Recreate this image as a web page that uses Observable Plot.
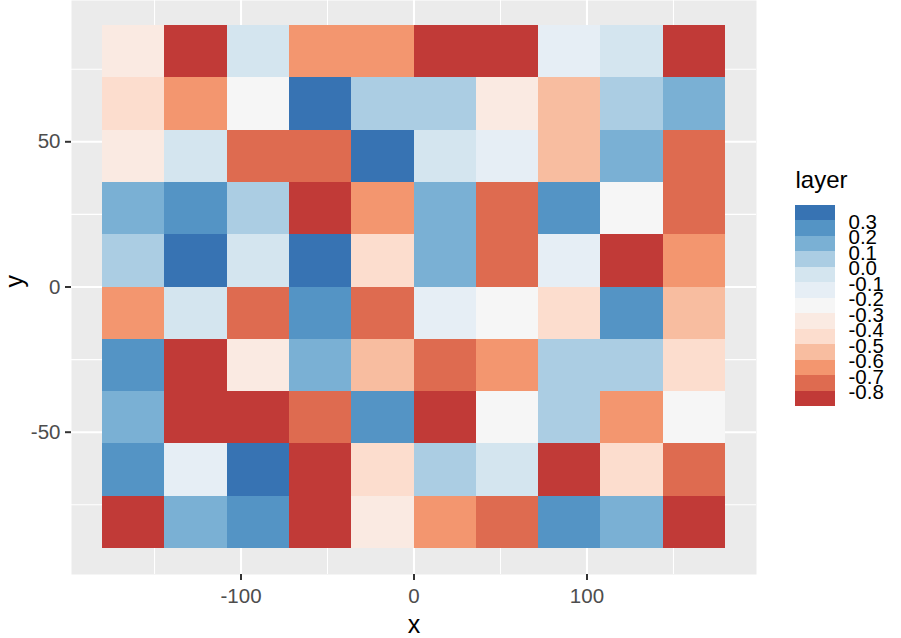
<!DOCTYPE html>
<html>
<head>
<meta charset="utf-8">
<script src="https://cdn.jsdelivr.net/npm/d3@7"></script>
<script src="https://cdn.jsdelivr.net/npm/@observablehq/plot@0.6"></script>
<style>
  html, body { margin: 0; padding: 0; background: #ffffff; }
  #chart { position: relative; width: 901px; height: 638px; overflow: hidden; font-family: "Liberation Sans", Arial, sans-serif; }
  #chart > div, #chart > svg { position: absolute; }
  #main { left: 0; top: 0; }
  #legend { left: 780px; top: 160px; }
</style>
</head>
<body>
<div id="chart"><div id="main"></div><div id="legend"></div></div>
<script>
// Grid cell centres (10 x 10 raster over lon/lat)
const xCenters = [-162, -126, -90, -54, -18, 18, 54, 90, 126, 162];
const yCenters = [81, 63, 45, 27, 9, -9, -27, -45, -63, -81];
const cellWidth = 36;
const cellHeight = 18;

// Layer values, one row per latitude band (top to bottom)
const row1  = [-0.35, -0.85, -0.05, -0.65, -0.65, -0.85, -0.85, -0.15, -0.05, -0.85];
const row2  = [-0.45, -0.65, -0.25,  0.35,  0.05,  0.05, -0.35, -0.55,  0.05,  0.15];
const row3  = [-0.35, -0.05, -0.75, -0.75,  0.35, -0.05, -0.15, -0.55,  0.15, -0.75];
const row4  = [ 0.15,  0.25,  0.05, -0.85, -0.65,  0.15, -0.75,  0.25, -0.25, -0.75];
const row5  = [ 0.05,  0.35, -0.05,  0.35, -0.45,  0.15, -0.75, -0.15, -0.85, -0.65];
const row6  = [-0.65, -0.05, -0.75,  0.25, -0.75, -0.15, -0.25, -0.45,  0.25, -0.55];
const row7  = [ 0.25, -0.85, -0.35,  0.15, -0.55, -0.75, -0.65,  0.05,  0.05, -0.45];
const row8  = [ 0.15, -0.85, -0.85, -0.75,  0.25, -0.85, -0.25,  0.05, -0.65, -0.25];
const row9  = [ 0.25, -0.15,  0.35, -0.85, -0.45,  0.05, -0.05, -0.85, -0.45, -0.75];
const row10 = [-0.85,  0.15,  0.25, -0.85, -0.35, -0.65, -0.75,  0.25,  0.15, -0.85];
const layerRows = [row1, row2, row3, row4, row5, row6, row7, row8, row9, row10];

// Axis ticks
const xTicks = [-100, 0, 100];
const xMinor = [-150, -50, 50, 150];
const yTicks = [-50, 0, 50];
const yMinor = [-75, -25, 25, 75];

// Binned colour scale: breaks and the 13 bin colours (low to high)
const breaks = [-0.8, -0.7, -0.6, -0.5, -0.4, -0.3, -0.2, -0.1, 0.0, 0.1, 0.2, 0.3];
const palette = ["#C13A37", "#DE6B50", "#F3966F", "#F8BDA0", "#FCDDCE", "#FAEAE2", "#F6F6F6",
                 "#E6EEF5", "#D4E5EF", "#ABCDE3", "#7AB0D4", "#5494C5", "#3773B3"];
const legendLabels = ["0.3", "0.2", "0.1", "0.0", "-0.1", "-0.2", "-0.3", "-0.4", "-0.5", "-0.6", "-0.7", "-0.8"];
const legendTitle = "layer";

const FONT = "'Liberation Sans', Arial, sans-serif";
const colorSpec = {type: "threshold", domain: breaks, range: palette};

const cells = yCenters.flatMap((y, i) => xCenters.map((x, j) => ({x, y, layer: layerRows[i][j]})));

const main = Plot.plot({
  width: 901,
  height: 638,
  marginLeft: 71,
  marginRight: 145,
  marginTop: 0,
  marginBottom: 64,
  style: {fontFamily: FONT, fontSize: "20px", background: "transparent", overflow: "visible"},
  x: {domain: [-198, 198]},
  y: {domain: [-99, 99], range: [574, -1]},
  color: colorSpec,
  marks: [
    Plot.frame({fill: "#EBEBEB", stroke: "none"}),
    Plot.ruleX(xMinor, {stroke: "white", strokeWidth: 1.05}),
    Plot.ruleX(xTicks, {stroke: "white", strokeWidth: 2.1}),
    Plot.ruleY(yMinor, {stroke: "white", strokeWidth: 1.05}),
    Plot.ruleY(yTicks, {stroke: "white", strokeWidth: 2.1}),
    Plot.rect(cells, {
      x1: d => d.x - cellWidth / 2, x2: d => d.x + cellWidth / 2,
      y1: d => d.y - cellHeight / 2, y2: d => d.y + cellHeight / 2,
      fill: "layer", shapeRendering: "crispEdges"
    }),
    Plot.axisX(xTicks, {tickSize: 6, tickPadding: 8, stroke: "#333333", strokeWidth: 2,
      fill: "#4D4D4D", fontSize: 20.5, tickFormat: d => String(d), label: null}),
    Plot.axisY(yTicks, {tickSize: 6, tickPadding: 5, stroke: "#333333", strokeWidth: 2,
      fill: "#4D4D4D", fontSize: 20.5, tickFormat: d => String(d), label: null}),
    Plot.text(["x"], {frameAnchor: "bottom", dy: 58, fontSize: 25, fill: "black"}),
    Plot.text(["y"], {frameAnchor: "left", dx: -57, rotate: -90, fontSize: 25, fill: "black"})
  ]
});
document.getElementById("main").appendChild(main);

// Vertical binned legend: highest bin on top
const legendBins = palette.map((_, k) => {
  const i = palette.length - 1 - k;            // row index from the top
  const value = k === 0 ? breaks[0] - 0.05 : breaks[k - 1] + 0.05;
  return {i, value};
});

const legend = Plot.plot({
  width: 120,
  height: 260,
  margin: 0,
  style: {fontFamily: FONT, fontSize: "20px", background: "transparent", overflow: "visible"},
  x: {domain: [0, 1], range: [15, 55], axis: null},
  y: {domain: [0, 13], range: [45, 246], axis: null},
  color: colorSpec,
  marks: [
    Plot.rect(legendBins, {x1: 0, x2: 1, y1: "i", y2: d => d.i + 1, fill: "value", shapeRendering: "crispEdges"}),
    Plot.text(legendLabels, {x: 1, y: (d, k) => k + 1, text: d => d, dx: 13, dy: 1.5,
      textAnchor: "start", fontSize: 20.5, fill: "black"}),
    Plot.text([legendTitle], {x: 0, y: 0, dy: -25, textAnchor: "start", fontSize: 24, fill: "black"})
  ]
});
document.getElementById("legend").appendChild(legend);
</script>
</body>
</html>
